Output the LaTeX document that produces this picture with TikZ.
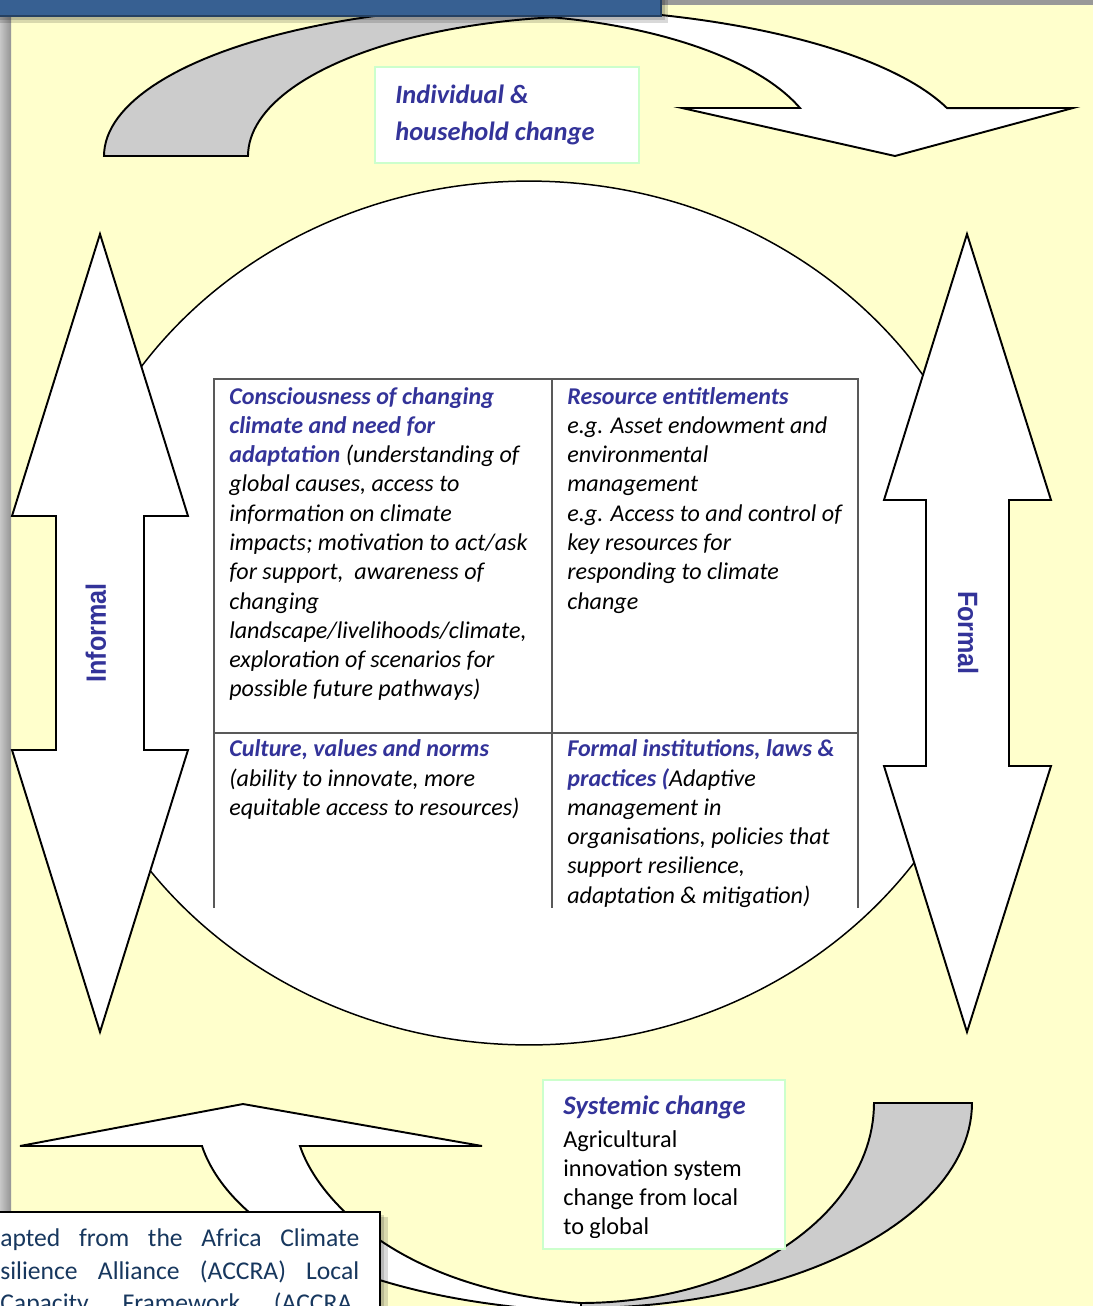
\documentclass[tikz,border=0pt]{standalone}
\usepackage{fontspec}
\setmainfont{Carlito}
\newfontfamily\labfont{Liberation Sans}
\definecolor{bgyellow}{HTML}{FFFFCC}
\definecolor{hdblue}{HTML}{333399}
\definecolor{barblue}{HTML}{376092}
\definecolor{barline}{HTML}{254061}
\definecolor{boxgreen}{HTML}{CCFFCC}
\definecolor{bandgray}{HTML}{CCCCCC}
\definecolor{srcblue}{HTML}{17375E}
\newcommand\hdtxt[1]{{\color{hdblue}\bfseries #1}}
\newcommand\fstrut{\rule{0pt}{12pt}}
\begin{document}
\begin{tikzpicture}[x=0.02cm,y=-0.02cm,
  outl/.style={draw=black, line width=1.1pt, line join=miter},
  tabline/.style={draw=black!65, line width=0.8pt},
  cell/.style={anchor=north west, inner sep=0pt, align=left, font=\fontsize{13.7}{16.67}\selectfont\itshape},
  greenbox/.style={draw=boxgreen, line width=1.1pt, fill=white, inner sep=0pt, anchor=north west},
  sidelab/.style={text=hdblue, font=\labfont\bfseries\fontsize{15.9}{18}\selectfont, inner sep=0pt},
  srcline/.style={anchor=base west, inner sep=0pt, text=srcblue, font=\fontsize{14.57}{18.7}\selectfont}]

\useasboundingbox (0,0) rectangle (1093,1306);
\clip (0,0) rectangle (1093,1306);
\fill[bgyellow] (0,0) rectangle (1093,1306);

% page edges
\shade[left color=black!22, right color=black!42] (0,10) rectangle (11,1306);
\fill[black!40] (661,0) rectangle (1093,5);

% central oval
\filldraw[fill=white, draw=black, line width=0.85pt] (529,613) ellipse [x radius=9.44cm, y radius=8.64cm];

% table
\draw[tabline] (214,908) -- (214,379) -- (858,379) -- (858,908);
\draw[tabline] (552,379) -- (552,908);
\draw[tabline] (214,733) -- (858,733);

\node[cell] (c11) at (229,382.6) {\fstrut\hdtxt{Consciousness of changing}\\
\hdtxt{climate and need for}\\
\hdtxt{adaptation} (understanding of\\
global causes, access to\\
information on climate\\
impacts; motivation to act/ask\\
for support, \ awareness of\\
changing\\
landscape/livelihoods/climate,\\
exploration of scenarios for\\
possible future pathways)};

\node[cell] (c12) at (567,382.6) {\fstrut\hdtxt{Resource entitlements}\\
e.g. Asset endowment and\\
environmental\\
management\\
e.g. Access to and control of\\
key resources for\\
responding to climate\\
change};

\node[cell] (c21) at (229,735.3) {\fstrut\hdtxt{Culture, values and norms}\\
(ability to innovate, more\\
equitable access to resources)};

\node[cell] (c22) at (567,735.3) {\fstrut\hdtxt{Formal institutions, laws \&}\\
\hdtxt{practices (}Adaptive\\
management in\\
organisations, policies that\\
support resilience,\\
adaptation \& mitigation)};

% side double arrows
\filldraw[fill=white, outl] (100,234) -- (188,516) -- (144,516) -- (144,750) -- (188,750) -- (100,1032) -- (12,750) -- (56,750) -- (56,516) -- (12,516) -- cycle;
\filldraw[fill=white, outl] (967,234) -- (1051,500) -- (1009,500) -- (1009,766) -- (1051,766) -- (967,1032) -- (884,766) -- (926,766) -- (926,500) -- (884,500) -- cycle;
\node[sidelab, rotate=90] (inf) at (96,633) {\scalebox{0.9}[1]{Informal}};
\node[sidelab, rotate=-90] (frm) at (968,633) {\scalebox{0.9}[1]{Formal}};

% top curved arrow
\filldraw[fill=bandgray, outl] plot[domain=180:90, samples=50] ({526+422*cos(\x)},{156-150*sin(\x)}) -- plot[domain=90:180, samples=50] ({600+352*cos(\x)},{156-140*sin(\x)}) -- cycle;
\filldraw[fill=white, outl] plot[domain=90:18.9, samples=50] ({526+445*cos(\x)},{156-148*sin(\x)}) -- (1073,108) -- (895,156) -- (682,108) -- plot[domain=19.76:90, samples=50] ({480+340*cos(\x)},{156-142*sin(\x)}) -- cycle;

% bottom curved arrow
\filldraw[fill=white, outl] (581,1303) .. controls (400,1290) and (318,1200) .. (300,1146) -- (482,1146) -- (243,1104) -- (20,1146) -- (202,1146) .. controls (225,1215) and (330,1300) .. (581,1312) -- cycle;
\filldraw[fill=bandgray, outl] plot[domain=0:-90, samples=50] ({581+391*cos(\x)},{1103-205*sin(\x)}) -- plot[domain=-90:0, samples=50] ({581+293*cos(\x)},{1103-200*sin(\x)}) -- cycle;

% label boxes
\node[greenbox, minimum width=5.28cm, minimum height=1.92cm] (indbox) at (374,66) {};
\node[anchor=north west, inner sep=0pt, align=left, text=hdblue, font=\fontsize{15.05}{20.98}\selectfont\bfseries\itshape] (indtxt) at (395,80) {\rule{0pt}{13pt}Individual \&\\household change};

\node[greenbox, minimum width=4.84cm, minimum height=3.38cm] (sysbox) at (542,1079) {};
\node[anchor=base west, inner sep=0pt, text=hdblue, font=\fontsize{15.2}{18}\selectfont\bfseries\itshape] (systitle) at (563,1114.5) {Systemic change};
\begin{scope}
\clip (542,1079) rectangle (784,1237);
\node[anchor=north west, inner sep=0pt, align=left, font=\fontsize{13.8}{16.5}\selectfont] (systxt) at (563,1125.8) {\fstrut Agricultural\\innovation system\\change from local\\to global};
\end{scope}

% source box
\fill[black, opacity=0.15] (-20,1217) rectangle (388,1330);
\fill[black, opacity=0.15] (-20,1215) rectangle (384,1330);
\filldraw[fill=white, draw=black, line width=0.8pt] (-20,1212) rectangle (380,1330);
\node[srcline] (src1) at (0,1246.5) {\makebox[7.18cm][s]{apted from the Africa Climate}};
\node[srcline] (src2) at (0,1279) {\makebox[7.18cm][s]{silience Alliance (ACCRA) Local}};
\node[srcline] (src3) at (0,1311.5) {\makebox[7.04cm][s]{Capacity Framework (ACCRA}};

% title bar
\fill[black, opacity=0.15] (-5,-5) rectangle (668,23);
\fill[black, opacity=0.15] (-5,-5) rectangle (665,20);
\filldraw[fill=barblue, draw=barline, line width=0.9pt] (-5,-5) rectangle (661,16);
\end{tikzpicture}
\end{document}
